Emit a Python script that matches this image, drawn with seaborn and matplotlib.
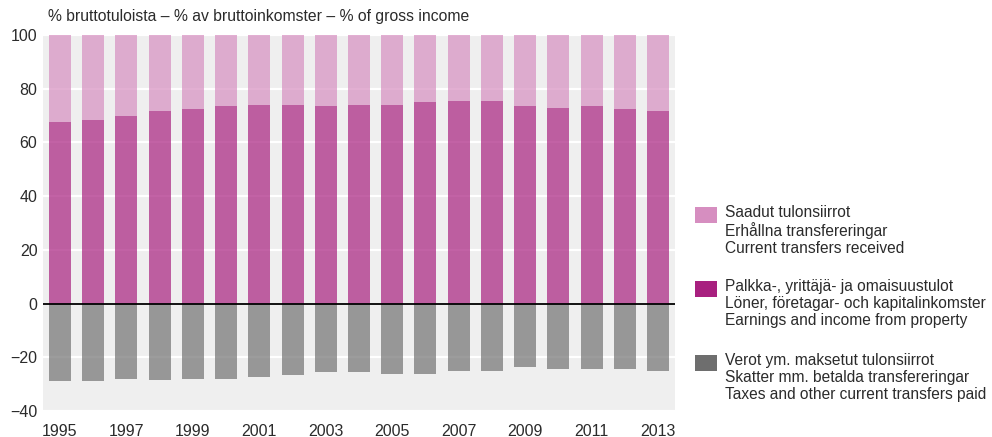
import numpy as np
import pandas as pd
import matplotlib
matplotlib.use("Agg")
import matplotlib.pyplot as plt
from matplotlib.patches import Rectangle
import seaborn as sns

years = [str(y) for y in range(1995, 2014)]
earnings = [67.7, 68.5, 69.9, 71.7, 72.6, 73.6, 74.0, 74.0, 73.6, 73.9,
            73.9, 74.9, 75.3, 75.3, 73.4, 72.9, 73.4, 72.3, 71.6]
received = [32.3, 31.5, 30.1, 28.3, 27.4, 26.4, 26.0, 26.0, 26.4, 26.1,
            26.1, 25.1, 24.7, 24.7, 26.6, 27.1, 26.6, 27.7, 28.4]
taxes = [-28.9, -29.0, -28.1, -28.5, -28.1, -28.1, -27.2, -26.6, -25.6, -25.6,
         -26.1, -26.1, -25.2, -25.2, -23.7, -24.2, -24.2, -24.2, -25.2]
legend_labels = [
    "Saadut tulonsiirrot\nErhållna transfereringar\nCurrent transfers received",
    "Palkka-, yrittäjä- ja omaisuustulot\nLöner, företagar- och kapitalinkomster\nEarnings and income from property",
    "Verot ym. maksetut tulonsiirrot\nSkatter mm. betalda transfereringar\nTaxes and other current transfers paid",
]
title = "% bruttotuloista – % av bruttoinkomster – % of gross income"

c_recv = "#d68ec0"
c_earn = "#a8207f"
c_tax = "#6e6e6e"
txt = "#2b2b2b"

sns.set_style("whitegrid")
plt.rcParams["font.family"] = ["Liberation Sans", "DejaVu Sans"]

W, H = 992, 437
fig = plt.figure(figsize=(W / 100, H / 100), dpi=100)
ax = fig.add_axes([43 / W, 1 - 411 / H, (675 - 43) / W, (411 - 35) / H])
ax.set_facecolor("#efefef")

df = pd.DataFrame({"year": years, "earnings": earnings,
                   "received": received, "taxes": taxes})

sns.barplot(data=df, x="year", y="earnings", color=c_earn, alpha=0.7,
            width=0.66, saturation=1, linewidth=0, ax=ax, zorder=2)
sns.barplot(data=df, x="year", y="taxes", color=c_tax, alpha=0.68,
            width=0.66, saturation=1, linewidth=0, ax=ax, zorder=2)
xpos = np.arange(len(years))
ax.bar(xpos, df["received"], bottom=df["earnings"], width=0.66,
       color=c_recv, alpha=0.7, linewidth=0, zorder=2)

ax.set_xlim(-0.51, len(years) - 0.49)
ax.set_ylim(-40, 100)
ax.set_yticks(range(-40, 101, 20))
ax.set_xticks(xpos[::2])
ax.set_xticklabels(years[::2])
ax.grid(axis="y", color="white", linewidth=1.6, zorder=1)
ax.grid(axis="x", visible=False)
ax.set_axisbelow(True)
ax.axhline(0, color="black", linewidth=1.3, zorder=3)
for s in ax.spines.values():
    s.set_visible(False)
ax.set_xlabel("")
ax.set_ylabel("")
ax.tick_params(axis="both", length=0, labelsize=11.5, colors=txt)
ax.tick_params(axis="y", pad=4)
ax.tick_params(axis="x", pad=9)

fig.text(48 / W, 1 - 16 / H, title, fontsize=11.3, color=txt,
         ha="left", va="center")

ys = [205, 279, 353]
for lab, col, y in zip(legend_labels, [c_recv, c_earn, c_tax], ys):
    fig.patches.append(Rectangle((695 / W, 1 - (y + 18) / H), 22 / W, 16 / H,
                                 transform=fig.transFigure, color=col,
                                 linewidth=0))
    fig.text(725 / W, 1 - y / H, lab, fontsize=11.2, color=txt,
             ha="left", va="top", linespacing=1.17)

fig.savefig("out.png", dpi=100)
